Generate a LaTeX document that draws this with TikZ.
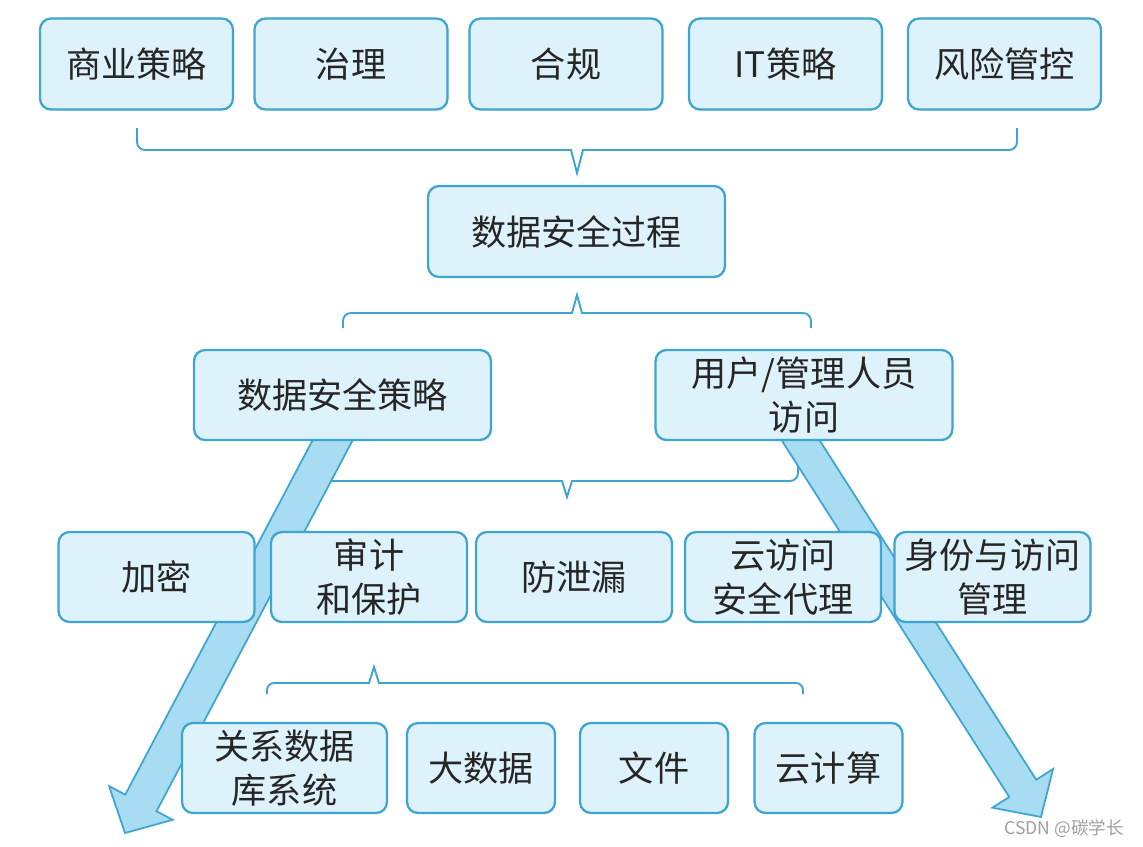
\documentclass[tikz,border=0pt]{standalone}
\usepackage{fontspec}
\setmainfont{Noto Sans CJK SC}
\usetikzlibrary{calc,backgrounds}
\definecolor{secline}{HTML}{3DA5D0}
\definecolor{secfill}{HTML}{DDF2FA}
\definecolor{secarrow}{HTML}{A8DCF2}

% broad arrow: start, tip, shaft half width, head half width
\newcommand{\fatarrow}[4]{%
  \coordinate (fathead) at ($(#2)!0.68cm!(#1)$);
  \draw[bigarrow] ($(#1)!#3!90:(#2)$) -- ($(fathead)!#3!90:(#2)$) -- ($(fathead)!#4!90:(#2)$)
    -- (#2) -- ($(fathead)!#4!-90:(#2)$) -- ($(fathead)!#3!-90:(#2)$) -- ($(#1)!#3!-90:(#2)$) -- cycle;
}

\begin{document}
\begin{tikzpicture}[x=0.02cm, y=-0.02cm,
    every node/.style={font=\fontsize{20}{25}\selectfont, text=black!85},
    box/.style={rectangle, draw=secline, fill=secfill, line width=1.3pt, rounded corners=0.22cm,
      minimum width=3.86cm, minimum height=1.82cm, align=center, inner sep=2pt},
    brace/.style={draw=secline, line width=1.1pt},
    bigarrow/.style={fill=secarrow, draw=secline, line width=1pt, line join=miter}]
  \useasboundingbox (0,0) rectangle (1143,846);

  % top row
  \node[box] (biz) at (136.5,64) {商业策略};
  \node[box] (gov) at (351,64) {治理};
  \node[box] (comp) at (566,64) {合规};
  \node[box] (itstrat) at (785.5,64) {IT策略};
  \node[box] (risk) at (1004.5,64) {风险管控};

  % process
  \node[box, minimum width=5.94cm] (process) at (576.5,231.5) {数据安全过程};

  % second row
  \node[box, minimum width=5.94cm, minimum height=1.8cm] (policy) at (342.5,395) {数据安全策略};
  \node[box, minimum width=5.94cm, minimum height=1.8cm] (access) at (804,395) {用户/管理人员\\访问};

  % third row
  \node[box, minimum width=3.92cm, minimum height=1.8cm] (crypt) at (156.5,577) {加密};
  \node[box, minimum width=3.92cm, minimum height=1.8cm] (audit) at (369,577) {审计\\和保护};
  \node[box, minimum width=3.92cm, minimum height=1.8cm] (dlp) at (574,577) {防泄漏};
  \node[box, minimum width=3.92cm, minimum height=1.8cm] (casb) at (783,577) {云访问\\安全代理};
  \node[box, minimum width=3.92cm, minimum height=1.8cm] (iam) at (992.5,577) {身份与访问\\管理};

  % bottom row
  \node[box, minimum width=4.1cm, minimum height=1.8cm] (rdbms) at (284.5,768) {关系数据\\库系统};
  \node[box, minimum width=2.96cm, minimum height=1.8cm] (bigdata) at (481,768) {大数据};
  \node[box, minimum width=2.96cm, minimum height=1.8cm] (files) at (654,768) {文件};
  \node[box, minimum width=2.96cm, minimum height=1.8cm] (cloud) at (828.5,768) {云计算};

  \node[text=gray!75, font=\fontsize{10}{12}\selectfont, anchor=east] (mark) at (1130,829) {CSDN @碳学长};

  \begin{scope}[on background layer]
    % braces
    \draw[brace] (137,128) [rounded corners=0.16cm] -- (137,150) [sharp corners] -- (571,150) -- (577,173) -- (583,150) [rounded corners=0.16cm] -- (1017,150) -- (1017,128);
    \draw[brace] (343,328) [rounded corners=0.16cm] -- (343,313) [sharp corners] -- (572,313) -- (577,295) -- (582,313) [rounded corners=0.16cm] -- (811,313) -- (811,328);
    \draw[brace] (318,465) [rounded corners=0.16cm] -- (318,481) [sharp corners] -- (562,481) -- (567,497) -- (572,481) [rounded corners=0.16cm] -- (798,481) -- (798,465);
    \draw[brace] (267,694) [rounded corners=0.14cm] -- (267,683) [sharp corners] -- (369,683) -- (374,667) -- (379,683) [rounded corners=0.14cm] -- (803,683) -- (803,694);

    % broad arrows
    \coordinate (lsrc) at ($(policy.south)+(5.5,-30)$);
    \coordinate (ltip) at (125,833);
    \fatarrow{lsrc}{ltip}{0.354cm}{0.72cm}
    \coordinate (rsrc) at ($(access.south)+(-22,-30)$);
    \coordinate (rtip) at (1041,817);
    \fatarrow{rsrc}{rtip}{0.32cm}{0.72cm}
  \end{scope}
\end{tikzpicture}
\end{document}
